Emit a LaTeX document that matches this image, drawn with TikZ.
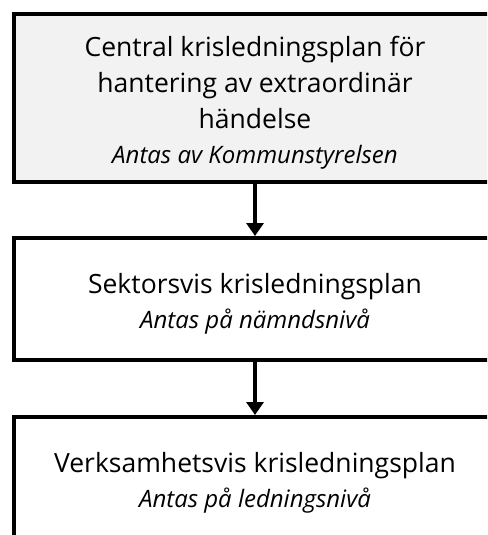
\documentclass[tikz,border=0pt]{standalone}
\usepackage{fontspec}
\setmainfont{Open Sans}
\usetikzlibrary{arrows.meta}
\definecolor{planfill}{RGB}{242,242,242}
\begin{document}
\begin{tikzpicture}[x=1pt,y=-1pt]
\tikzstyle{every node}+=[inner sep=0pt]
\tikzstyle{plan}=[draw=black, line width=4pt, minimum width=482pt, align=center, font=\fontsize{26.5}{36}\selectfont]
\tikzstyle{flow}=[black, line width=4pt, -{Triangle[length=13pt,width=17pt]}]
\newcommand{\antas}[1]{{\fontsize{24}{35}\selectfont\itshape #1}}
\newcommand{\topgap}{\rule{0pt}{30pt}}
\clip (0,0) rectangle (487,535);
\node [plan, fill=planfill, minimum height=168pt] (central) at (255,98)
  {\topgap Central krisledningsplan för\\hantering av extraordinär\\händelse\\[-1pt]\antas{Antas av Kommunstyrelsen}};
\node [plan, minimum height=122pt] (sektor) at (255,299)
  {\topgap Sektorsvis krisledningsplan\\[-1pt]\antas{Antas på nämndsnivå}};
\node [plan, minimum height=122pt] (verksamhet) at (255,478)
  {\topgap Verksamhetsvis krisledningsplan\\[-1pt]\antas{Antas på ledningsnivå}};
\draw [flow] (central) -- (sektor);
\draw [flow] (sektor) -- (verksamhet);
\end{tikzpicture}
\end{document}
